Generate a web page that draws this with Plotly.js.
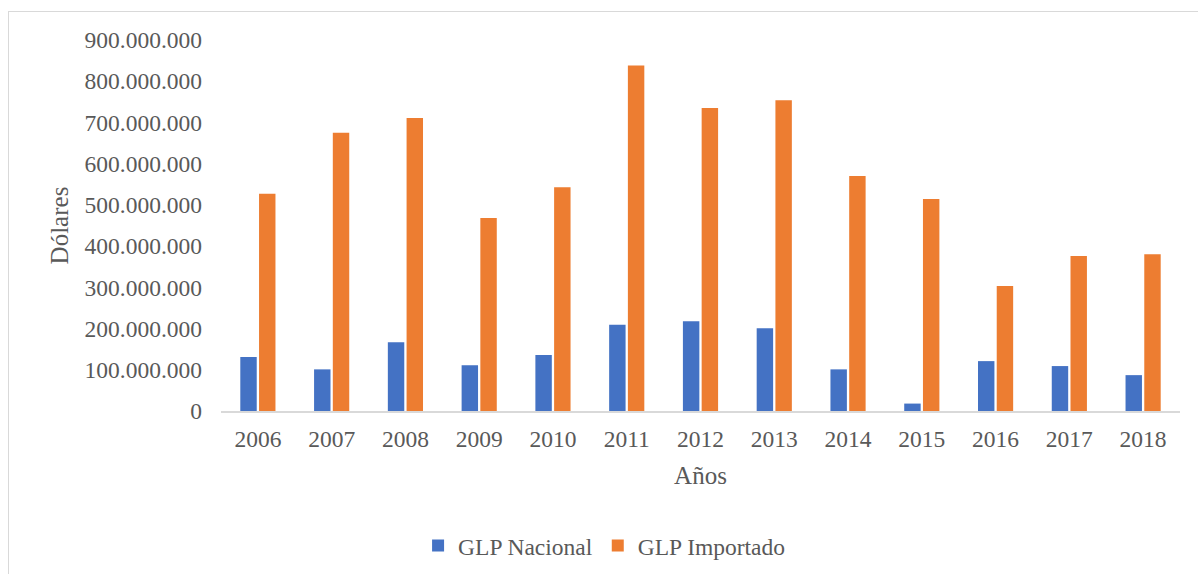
<!DOCTYPE html>
<html>
<head>
<meta charset="utf-8">
<script src="https://cdn.plot.ly/plotly-3.0.1.min.js"></script>
<style>
html,body{margin:0;padding:0;background:#fff;}
#wrap{position:relative;width:1198px;height:574px;overflow:hidden;}
#chart{width:1198px;height:574px;}
#frame{position:absolute;left:8px;top:11px;width:1300px;height:700px;border-left:1.5px solid #d9d9d9;border-top:1.5px solid #d9d9d9;pointer-events:none;}
</style>
</head>
<body>
<div id="wrap">
<div id="chart"></div>
<div id="frame"></div>
</div>
<script>
const years = ['2006','2007','2008','2009','2010','2011','2012','2013','2014','2015','2016','2017','2018'];
const glpNacional = [131e6, 101e6, 167e6, 111e6, 136e6, 209e6, 218e6, 201e6, 101e6, 18e6, 121e6, 109e6, 87e6];
const glpImportado = [527e6, 675e6, 711e6, 468e6, 543e6, 838e6, 735e6, 754e6, 570e6, 514e6, 303e6, 376e6, 380e6];
const seriesNames = ['GLP Nacional', 'GLP Importado'];

const fontFam = 'Liberation Serif, Times New Roman, serif';
const txt = '#595959';

const data = [
  {type:'bar', name:seriesNames[0], x:years, y:glpNacional, marker:{color:'#4472C4', line:{width:0}}, hoverinfo:'x+y'},
  {type:'bar', name:seriesNames[1], x:years, y:glpImportado, marker:{color:'#ED7D31', line:{width:0}}, hoverinfo:'x+y'}
];

const layout = {
  width:1198, height:574,
  paper_bgcolor:'rgba(0,0,0,0)', plot_bgcolor:'rgba(0,0,0,0)',
  margin:{l:221, r:18, t:40, b:163, autoexpand:false},
  separators:',.',
  font:{family:fontFam, color:txt, size:23.5},
  barmode:'group', bargap:0.492, bargroupgap:0.123,
  showlegend:true,
  legend:{orientation:'h', x:0.2055, xanchor:'left', y:-0.363, yanchor:'middle', font:{family:fontFam, size:23.5, color:txt}, itemwidth:30, traceorder:'normal'},
  xaxis:{
    type:'category', showgrid:false, zeroline:false, automargin:false,
    showline:true, linecolor:'#d9d9d9', linewidth:1.5,
    ticks:'', tickfont:{family:fontFam, size:23.5, color:txt},
    ticklabelstandoff:6,
    title:{text:'Años', font:{family:fontFam, size:25, color:txt}, standoff:16}
  },
  yaxis:{
    range:[0, 900e6], dtick:100e6, tick0:0, tickformat:',d', automargin:false,
    showgrid:false, zeroline:false, showline:false, ticks:'',
    tickfont:{family:fontFam, size:23.5, color:txt},
    ticklabelstandoff:18,
    title:{text:'Dólares', font:{family:fontFam, size:25, color:txt}, standoff:8}
  }
};

Plotly.newPlot('chart', data, layout, {displayModeBar:false, staticPlot:true});
</script>
</body>
</html>
